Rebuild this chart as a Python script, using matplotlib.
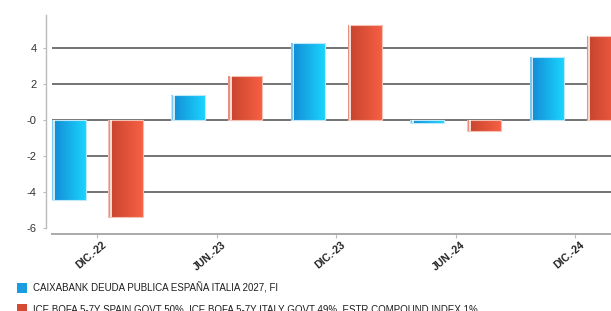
import matplotlib
matplotlib.use("Agg")
import matplotlib.pyplot as plt
import numpy as np
from matplotlib.colors import LinearSegmentedColormap
from matplotlib.patches import Rectangle
import matplotlib.transforms as mtrans

categories = ["DIC.-22", "JUN.-23", "DIC.-23", "JUN.-24", "DIC.-24"]
fund_values = [-4.44, 1.39, 4.30, -0.15, 3.48]
index_values = [-5.41, 2.43, 5.28, -0.59, 4.67]
series_names = ["CAIXABANK DEUDA PUBLICA ESPAÑA ITALIA 2027, FI",
                "ICE BOFA 5-7Y SPAIN GOVT 50%, ICE BOFA 5-7Y ITALY GOVT 49%, ESTR COMPOUND INDEX 1%"]
yticks = [-6, -4, -2, 0, 2, 4]
ytick_labels = ["-6", "-4", "-2", "-0", "2", "4"]

plt.rcParams['font.family'] = ['Liberation Sans', 'DejaVu Sans']

W, H = 611, 311
fig = plt.figure(figsize=(W / 100, H / 100), dpi=100)
ax = fig.add_axes([52 / W, 83 / H, (W - 52) / W, 213 / H])

for s in ["top", "right"]:
    ax.spines[s].set_visible(False)
ax.spines["left"].set_position(("outward", 4))
ax.spines["bottom"].set_position(("outward", 4))
ax.spines["left"].set_color("#bbbbbb")
ax.spines["bottom"].set_color("#aaaaaa")
ax.spines["left"].set_linewidth(1.0)
ax.spines["bottom"].set_linewidth(1.4)
ax.set_facecolor("white")

x = np.arange(len(categories))
bw = 0.285
off = 0.238

blue_cmap = LinearSegmentedColormap.from_list("b", ["#1388d4", "#1ad6ff"])
red_cmap = LinearSegmentedColormap.from_list("r", ["#c6432d", "#f76044"])
grad = np.linspace(0, 1, 64).reshape(1, -1)

def draw(vals, xs, cmap, edge, stripe_col):
    bars = ax.bar(xs, vals, width=bw, color="none", edgecolor="none", zorder=3)
    for p in bars.patches:
        x0, y0 = p.get_x(), p.get_y()
        w, h = p.get_width(), p.get_height()
        ylo, yhi = min(y0, y0 + h), max(y0, y0 + h)
        im = ax.imshow(grad, extent=[x0, x0 + w, ylo, yhi], aspect='auto',
                       cmap=cmap, zorder=3, interpolation='bilinear')
        im.set_clip_path(p)
        ax.add_patch(Rectangle((x0, ylo), w, yhi - ylo, fill=False,
                               edgecolor=edge, linewidth=0.8, zorder=4))
        ax.add_patch(Rectangle((x0 + 0.004, ylo), 0.012, yhi - ylo,
                               facecolor=stripe_col, edgecolor='none', zorder=4))
        ax.add_patch(Rectangle((x0 + 0.016, ylo), 0.016, yhi - ylo,
                               facecolor='white', edgecolor='none', alpha=0.8, zorder=4))

draw(fund_values, x - off, blue_cmap, "#bfe9fb", "#7cc8ef")
draw(index_values, x + off, red_cmap, "#f3c0b4", "#e8907e")

for yv in [-4, -2, 0, 2, 4]:
    ax.axhline(yv, color="#4d4d4d", linewidth=1.1, zorder=1)

ax.set_xlim(-0.377, 4.30)
ax.set_ylim(-6, 5.83)
ax.set_yticks(yticks)
ax.set_yticklabels(ytick_labels, fontsize=8, color="#333333")
ax.set_xticks(x)
ax.set_xticklabels(categories)
ax.tick_params(axis='x', length=3, color="#bbbbbb", pad=4)
ax.tick_params(axis='y', length=2, color="#bbbbbb", pad=5)
shift = mtrans.ScaledTranslation(8 / 100, 0, fig.dpi_scale_trans)
for lab in ax.get_xticklabels():
    lab.set_rotation(40)
    lab.set_rotation_mode('anchor')
    lab.set_ha('right')
    lab.set_va('center')
    lab.set_fontsize(7.6)
    lab.set_fontweight('bold')
    lab.set_color("#222222")
    lab.set_family(['Liberation Sans Narrow', 'Liberation Sans', 'DejaVu Sans'])
    lab.set_transform(lab.get_transform() + shift)

# Legend
colors = ["#1a9de0", "#d44a32"]
ys = [288, 309]
for c, yv, name in zip(colors, ys, series_names):
    fig.patches.append(Rectangle((17 / W, (H - yv - 5) / H), 10 / W, 10 / H,
                                 facecolor=c, edgecolor='none', transform=fig.transFigure))
    fig.text(33 / W, (H - yv) / H, name, fontsize=7, color="#1e1e1e",
             va='center', ha='left',
             family=['Liberation Sans Narrow', 'Liberation Sans', 'DejaVu Sans'])

fig.savefig("out.png", dpi=100, facecolor="white")
